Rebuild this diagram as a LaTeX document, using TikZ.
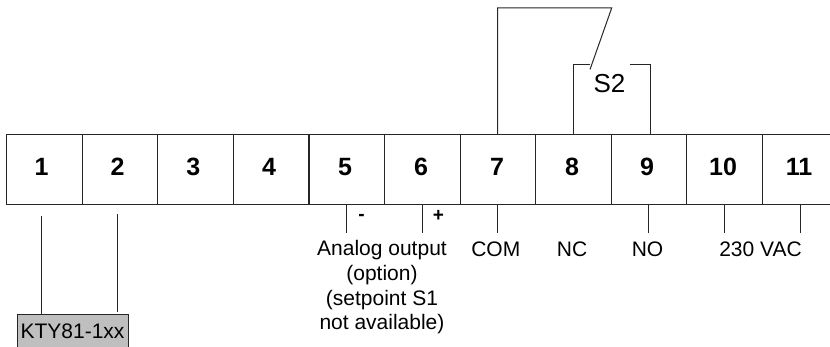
\documentclass[tikz,border=0pt]{standalone}
\usepackage{fontspec}
\setmainfont{Liberation Sans}
\tikzset{
  cell/.style={draw=black!85,line width=1pt,minimum width=75.6pt,minimum height=70.5pt,inner sep=0pt,outer sep=0pt,anchor=north west},
  num/.style={font=\fontsize{25}{25}\selectfont\bfseries,inner sep=0pt,anchor=center},
  lab/.style={font=\fontsize{21}{24.6}\selectfont,inner sep=0pt,align=center},
  sign/.style={font=\fontsize{19}{20}\selectfont\bfseries,inner sep=0pt},
  wire/.style={draw=black!85,line width=1pt}
}
\begin{document}
\begin{tikzpicture}[x=1pt,y=-1pt]
\useasboundingbox (0,0) rectangle (830,347);
\clip (0,0) rectangle (830,347);
\foreach \i/\xx in {1/6.5,2/82,3/157.6,4/233.2,5/309,6/384.6,7/460,8/535.6,9/611,10/686.6,11/762.4}{
  \node[cell] (c\i) at (\xx,134.5) {};
}
\node[num] (n1) at (41.7,167) {1};
\node[num] (n2) at (117.5,167) {2};
\node[num] (n3) at (193.3,167) {3};
\node[num] (n4) at (269,167) {4};
\node[num] (n5) at (345,167) {5};
\node[num] (n6) at (421,167) {6};
\node[num] (n7) at (497,167) {7};
\node[num] (n8) at (572,167) {8};
\node[num] (n9) at (647,167) {9};
\node[num] (n10) at (723,167) {10};
\node[num] (n11) at (799,167) {11};
% relay
\coordinate (t7) at (497.6,8);
\coordinate (tip) at (611.7,8);
\coordinate (arm) at (590,69.5);
\coordinate (t8) at (573.5,64.5);
\coordinate (s8) at (590,64.5);
\coordinate (t9) at (650.6,64.5);
\coordinate (s9) at (630,64.5);
\draw[wire] (c7.north west -| t7) -- (t7) -- (tip) -- (arm);
\draw[wire] (c8.north west -| t8) -- (t8) -- (s8);
\draw[wire] (c9.north west -| t9) -- (t9) -- (s9);
\node[font=\fontsize{26}{26}\selectfont,inner sep=0pt] (s2) at (609.5,83.5) {S2};
% sensor
\node[draw=black!85,line width=1pt,fill=black!25,minimum width=111pt,minimum height=33pt,inner sep=0pt,anchor=north west,font=\fontsize{21}{24}\selectfont] (kty) at (16.5,314.5) {KTY81-1xx};
\coordinate (a1) at (41.6,216);
\coordinate (a2) at (117.5,214);
\coordinate (b2) at (117.5,312);
\draw[wire] (a1) -- (a1 |- kty.north);
\draw[wire] (a2) -- (b2);
% lower stubs
\foreach \i/\xx in {5/346.7,6/422,7/497.6,9/648.7,10/724.5,11/800}{
  \coordinate (e\i) at (\xx,233.5);
  \draw[wire] (c\i.south west -| e\i) -- (e\i);
}
\node[sign] (minus) at (361.5,217.5) {-};
\node[sign] (plus) at (438.5,215.5) {+};
\node[lab,anchor=north] (aout) at (382,240.5) {Analog output\\(option)\\(setpoint S1\\not available)};
\node[lab] (com) at (495.8,249) {COM};
\node[lab] (nc) at (572,249) {NC};
\node[lab] (no) at (647.5,249) {NO};
\node[lab] (vac) at (760.5,249) {230 VAC};
\end{tikzpicture}
\end{document}
